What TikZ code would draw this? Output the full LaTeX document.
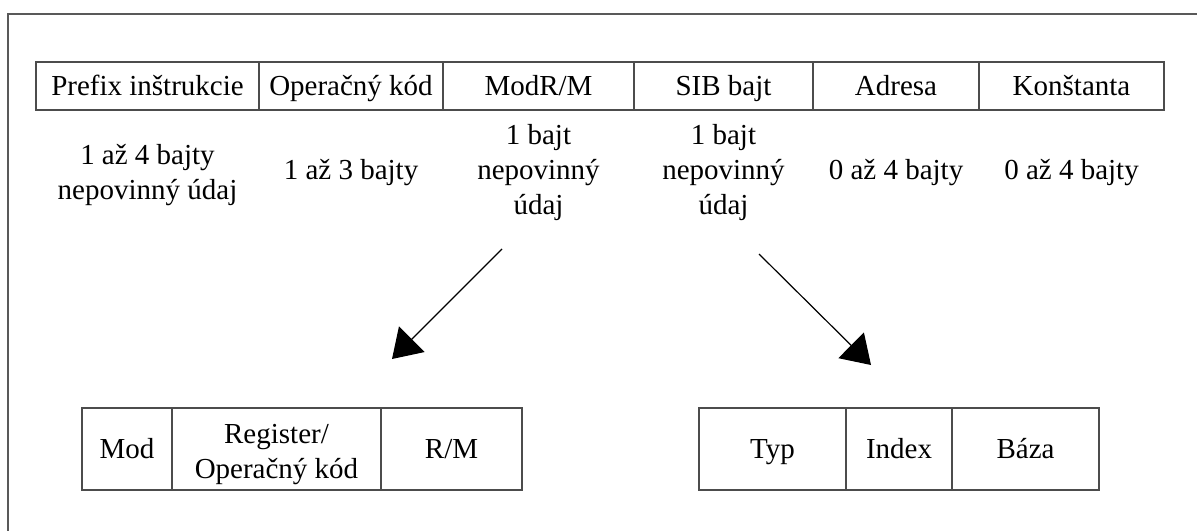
\documentclass[tikz,border=0pt]{standalone}
\usepackage{fontspec}
\setmainfont{Liberation Serif}
\usetikzlibrary{arrows.meta}
\begin{document}
\begin{tikzpicture}[x=0.5pt,y=-0.5pt,
  every node/.style={font=\fontsize{14.5}{17.5}\selectfont, inner sep=0pt, align=center},
  oneline/.style={text height=9.6pt, text depth=0pt},
  cell/.style={draw=black!70, line width=0.6pt, minimum height=24pt, anchor=center, oneline},
  bcell/.style={draw=black!70, line width=0.6pt, minimum height=41pt, anchor=center},
  lbl/.style={anchor=center},
  arr/.style={line width=0.6pt, -{Triangle[length=14pt,width=18pt]}}]
\useasboundingbox (0,0) rectangle (1197,531);
\draw[black!65, line width=0.7pt] (1197,14) -- (8,14) -- (8,531);
% top row
\node[cell, minimum width=111.5pt] (c1) at (147.5,86) {Prefix inštrukcie};
\node[cell, minimum width=92pt]    (c2) at (351,86) {Operačný kód};
\node[cell, minimum width=95.5pt]  (c3) at (538.5,86) {ModR/M};
\node[cell, minimum width=89.5pt]  (c4) at (723.5,86) {SIB bajt};
\node[cell, minimum width=83pt]    (c5) at (896,86) {Adresa};
\node[cell, minimum width=92.5pt]  (c6) at (1071.5,86) {Konštanta};
% labels
\node[lbl] (l1) at (147.5,175) {1 až 4 bajty\\nepovinný údaj};
\node[lbl] (l2) at (351,173) {1 až 3 bajty};
\node[lbl] (l3) at (538.5,173) {1 bajt\\nepovinný\\údaj};
\node[lbl] (l4) at (723.5,173) {1 bajt\\nepovinný\\údaj};
\node[lbl] (l5) at (896,173) {0 až 4 bajty};
\node[lbl] (l6) at (1071.5,173) {0 až 4 bajty};
% bottom left
\node[bcell, oneline, minimum width=45pt] (m1) at (127,449) {Mod};
\node[bcell, text height=29.5pt, text depth=0pt, minimum width=104.5pt] (m2) at (276.5,449) {Register/\\Operačný kód};
\node[bcell, oneline, minimum width=70.5pt] (m3) at (451.5,449) {R/M};
% bottom right
\node[bcell, oneline, minimum width=73.5pt] (s1) at (772.5,449) {Typ};
\node[bcell, oneline, minimum width=53pt]   (s2) at (899,449) {Index};
\node[bcell, oneline, minimum width=73.5pt] (s3) at (1025.5,449) {Báza};
% arrows
\coordinate (a1s) at (502,249);
\coordinate (a1e) at (392,359);
\coordinate (a2s) at (759,254);
\coordinate (a2e) at (871,365);
\draw[arr] (a1s) -- (a1e);
\draw[arr] (a2s) -- (a2e);
\end{tikzpicture}
\end{document}
